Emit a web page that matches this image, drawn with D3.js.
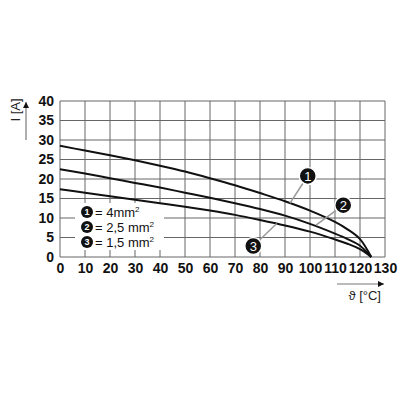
<!DOCTYPE html>
<meta charset="utf-8">
<style>
    body { margin: 0; background: #fff; }
    svg { display: block; }
    .tick text { font-family: "Liberation Sans", Arial, sans-serif; font-size: 14px; font-weight: bold; fill: #111; }
    .grid line { stroke: #666; stroke-width: 1; }
    .curve { fill: none; stroke: #111; stroke-width: 2; }
    .leader { stroke: #999; stroke-width: 1.5; }
    .title { font-family: "Liberation Sans", Arial, sans-serif; font-size: 13px; fill: #222; }
</style>
<body>
<script src="https://d3js.org/d3.v7.min.js"></script>
<script>
    // temperature (°C) and current (A)
    var temps  = [0, 10, 20, 30, 40, 50, 60, 70, 80, 90, 100, 110, 115, 120, 124.5];
    var curve1 = [28.5, 27.3, 26.1, 24.8, 23.4, 21.9, 20.2, 18.4, 16.4, 14.3, 11.9, 9.0, 7.1, 4.6, 0];
    var curve2 = [22.5, 21.4, 20.2, 19.0, 17.8, 16.5, 15.2, 13.8, 12.3, 10.6, 8.5, 6.0, 4.6, 2.9, 0];
    var curve3 = [17.4, 16.5, 15.6, 14.7, 13.8, 12.9, 11.9, 10.8, 9.5, 8.1, 6.5, 4.5, 3.4, 2.0, 0];

    var xTicks = d3.range(0, 131, 10);
    var yTicks = d3.range(0, 41, 5);

    var legendNames = ["4mm", "2,5 mm", "1,5 mm"];

    // callouts: number, point on curve, bubble position (data units)
    var calloutNum  = [1, 2, 3];
    var calloutAt   = [[92, 13.8], [102.4, 8.2], [86.7, 8.6]];
    var calloutBall = [[99.1, 20.8], [113.3, 13.3], [77.3, 2.8]];

    var width = 400, height = 400;
    var svg = d3.select("body").append("svg")
        .attr("width", width)
        .attr("height", height);

    var x = d3.scaleLinear().domain([0, 130]).range([60, 385]);
    var y = d3.scaleLinear().domain([0, 40]).range([257, 101]);

    // grid
    var grid = svg.append("g").attr("class", "grid");
    grid.selectAll("line.v").data(xTicks).enter().append("line")
        .attr("class", "v")
        .attr("x1", d => x(d)).attr("x2", d => x(d))
        .attr("y1", y(0)).attr("y2", y(40));
    grid.selectAll("line.h").data(yTicks).enter().append("line")
        .attr("class", "h")
        .attr("x1", x(0)).attr("x2", x(130))
        .attr("y1", d => y(d)).attr("y2", d => y(d));

    // axes (labels only)
    var xAxis = svg.append("g")
        .attr("transform", "translate(0," + y(0) + ")")
        .call(d3.axisBottom(x).tickValues(xTicks).tickSize(0).tickPadding(6));
    xAxis.select(".domain").remove();

    var yAxis = svg.append("g")
        .attr("transform", "translate(" + x(0) + ",0)")
        .call(d3.axisLeft(y).tickValues(yTicks).tickSize(0).tickPadding(6));
    yAxis.select(".domain").remove();

    // legend box
    var leg = svg.append("g").attr("transform", "translate(75,203)");
    leg.append("rect").attr("width", 89).attr("height", 47).attr("fill", "#fff");

    // curves
    var line = d3.line()
        .x(d => x(d[0]))
        .y(d => y(d[1]))
        .curve(d3.curveCatmullRom.alpha(0.5));

    [curve1, curve2, curve3].forEach(function (vals) {
        svg.append("path")
            .attr("class", "curve")
            .attr("d", line(temps.map((t, i) => [t, vals[i]])));
    });

    // legend rows
    legendNames.forEach(function (name, i) {
        var row = leg.append("g").attr("transform", "translate(12," + (9 + i * 15) + ")");
        row.append("circle").attr("r", 6).attr("fill", "#111");
        row.append("text")
            .attr("text-anchor", "middle").attr("dy", "0.36em")
            .attr("font-family", "Liberation Sans, Arial, sans-serif")
            .attr("font-size", 9).attr("font-weight", "bold").attr("fill", "#fff")
            .text(i + 1);
        var t = row.append("text")
            .attr("x", 8).attr("dy", "0.38em")
            .attr("font-family", "Liberation Sans, Arial, sans-serif")
            .attr("font-size", 13).attr("fill", "#111")
            .text("= " + name);
        t.append("tspan").attr("font-size", 8).attr("dy", "-0.6em").text("2");
    });

    // callouts
    var r = 8.5;
    calloutNum.forEach(function (n, i) {
        var px = x(calloutAt[i][0]), py = y(calloutAt[i][1]);
        var bx = x(calloutBall[i][0]), by = y(calloutBall[i][1]);
        var a = Math.atan2(py - by, px - bx);
        svg.append("line").attr("class", "leader")
            .attr("x1", bx + r * Math.cos(a)).attr("y1", by + r * Math.sin(a))
            .attr("x2", px).attr("y2", py);
        svg.append("circle")
            .attr("cx", bx).attr("cy", by).attr("r", r)
            .attr("fill", "#111").attr("stroke", "#fff").attr("stroke-width", 1.5);
        svg.append("text")
            .attr("x", bx).attr("y", by).attr("dy", "0.36em")
            .attr("text-anchor", "middle")
            .attr("font-family", "Liberation Sans, Arial, sans-serif")
            .attr("font-size", 13).attr("fill", "#fff")
            .text(n);
    });

    // axis titles with arrows
    var defs = svg.append("defs");
    defs.append("marker")
        .attr("id", "head").attr("viewBox", "0 0 10 10")
        .attr("refX", 10).attr("refY", 5)
        .attr("markerWidth", 9).attr("markerHeight", 6)
        .attr("markerUnits", "userSpaceOnUse")
        .attr("orient", "auto")
        .append("path").attr("d", "M0,0L10,5L0,10Z").attr("fill", "#111");

    svg.append("line")
        .attr("x1", 26).attr("y1", 140).attr("x2", 26).attr("y2", 102)
        .attr("stroke", "#777").attr("stroke-width", 1.2)
        .attr("marker-end", "url(#head)");
    svg.append("text").attr("class", "title")
        .attr("transform", "translate(20,110) rotate(-90)")
        .attr("text-anchor", "middle")
        .text("I [A]");

    svg.append("line")
        .attr("x1", 337).attr("y1", 284).attr("x2", 384).attr("y2", 284)
        .attr("stroke", "#777").attr("stroke-width", 1.2)
        .attr("marker-end", "url(#head)");
    svg.append("text").attr("class", "title")
        .attr("x", 381).attr("y", 300)
        .attr("text-anchor", "end")
        .text("\u03D1 [°C]");
</script>
</body>
